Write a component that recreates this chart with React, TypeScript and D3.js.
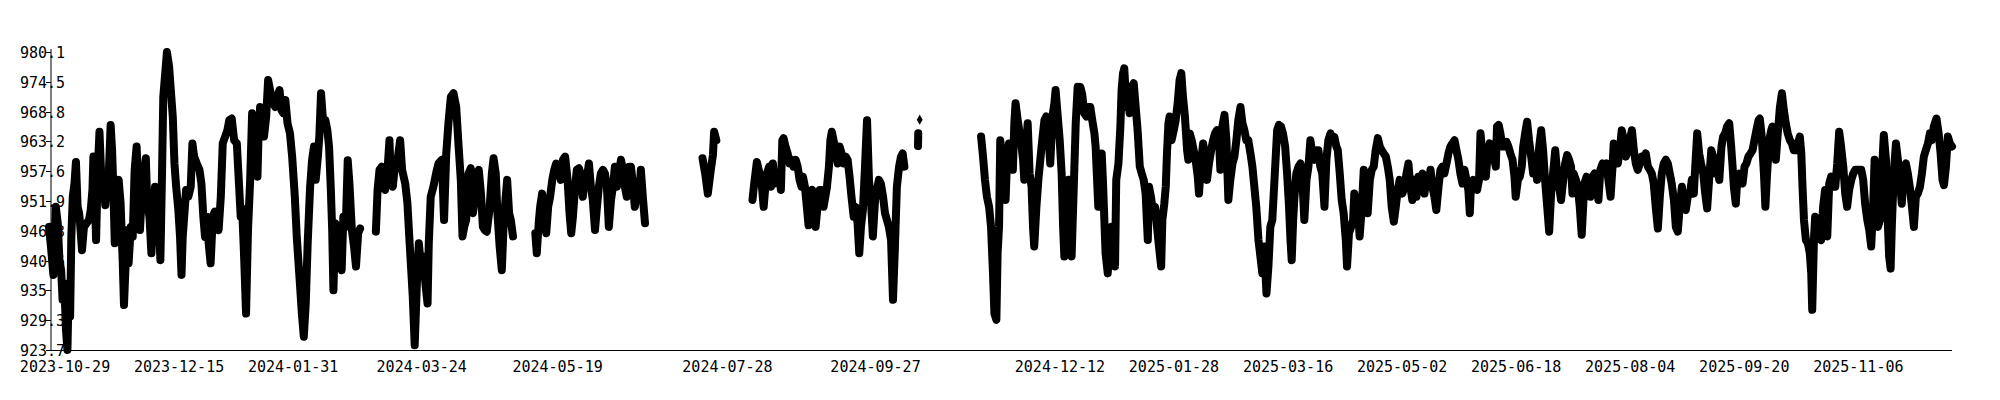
import React, { useEffect, useRef } from 'react';
import * as d3 from 'd3';

// pressure readings (hPa), [days since 2023-10-29, value], split at gaps in the record
const seg1: [number, number][] = [
  [-6.6, 947.0], [-5.8, 943.3], [-4.8, 937.9], [-3.8, 950.8], [-3.0, 947.7], [-2.3, 940.7], [-1.6, 938.8], [-1.0, 933.2],
  [-0.3, 936.3], [0.4, 927.5], [1.0, 923.7], [1.5, 935.0], [2.1, 930.0], [2.6, 945.1], [3.2, 952.7], [3.9, 955.2],
  [4.5, 959.3], [5.2, 950.8], [5.8, 949.6], [6.2, 947.7], [7.0, 942.6], [7.8, 947.0], [8.9, 947.7], [9.9, 948.3],
  [10.6, 950.2], [11.3, 954.0], [11.7, 960.3], [12.4, 951.5], [12.8, 944.5], [13.5, 957.8], [14.2, 965.0], [15.1, 954.6],
  [15.8, 956.5], [16.6, 951.1], [17.5, 956.5], [18.1, 957.8], [18.8, 966.3], [19.4, 961.5], [19.9, 954.6], [20.5, 943.9],
  [21.3, 951.5], [22.1, 955.9], [22.9, 951.5], [23.8, 940.1], [24.3, 932.2], [25.2, 942.6], [25.7, 946.4], [26.2, 940.1],
  [27.1, 947.0], [27.9, 945.1], [28.7, 957.8], [29.5, 962.2], [30.2, 954.6], [30.9, 946.4], [31.7, 954.0], [32.6, 957.1],
  [33.3, 960.0], [33.9, 951.5], [34.8, 948.9], [35.6, 942.0], [36.4, 950.2], [37.1, 954.6], [37.8, 951.5], [38.6, 948.9],
  [39.3, 940.7], [40.0, 957.8], [40.5, 971.6], [41.4, 976.7], [42.0, 980.1], [42.9, 977.3], [43.6, 972.9], [44.4, 967.9],
  [45.1, 959.0], [45.8, 954.6], [46.7, 950.2], [47.4, 945.1], [48.0, 937.9], [48.5, 945.1], [49.1, 948.9], [49.9, 954.0],
  [50.8, 952.7], [51.8, 954.6], [52.5, 962.8], [53.2, 960.3], [54.3, 959.0], [55.4, 957.8], [56.2, 955.2], [57.0, 948.9],
  [57.7, 945.1], [58.4, 948.9], [59.2, 943.9], [60.0, 940.1], [60.9, 948.9], [61.7, 949.9], [62.5, 947.7], [63.3, 946.4],
  [64.2, 952.7], [65.0, 962.8], [66.0, 964.1], [66.9, 965.3], [67.7, 967.2], [68.7, 967.5], [69.7, 963.4], [70.8, 962.8],
  [71.6, 955.9], [72.4, 948.9], [73.0, 950.5], [73.8, 941.4], [74.6, 930.6], [75.4, 946.4], [76.3, 955.9], [77.1, 968.5],
  [77.9, 966.0], [78.7, 962.2], [79.3, 956.5], [79.8, 965.3], [80.4, 969.7], [81.2, 968.5], [82.0, 964.1], [82.9, 967.9],
  [83.7, 974.8], [84.5, 972.9], [85.5, 970.7], [86.6, 969.7], [87.5, 971.6], [88.4, 972.9], [89.2, 969.1], [90.0, 968.5],
  [90.8, 971.0], [91.7, 966.6], [92.7, 964.7], [93.6, 960.3], [94.7, 952.7], [95.5, 945.1], [96.6, 937.6], [97.6, 930.6],
  [98.4, 926.2], [99.2, 932.5], [100.0, 943.9], [101.0, 954.6], [101.8, 959.6], [102.6, 962.2], [103.3, 955.9], [104.2, 960.3],
  [104.8, 964.1], [105.5, 972.3], [106.5, 966.0], [107.3, 967.2], [108.1, 965.3], [108.8, 962.2], [109.5, 954.6], [110.1, 946.4],
  [110.6, 935.0], [111.4, 947.7], [112.3, 946.4], [113.1, 940.1], [114.0, 938.8], [114.7, 948.9], [115.7, 947.0], [116.5, 959.6],
  [117.2, 955.2], [118.2, 946.4], [119.1, 943.3], [119.9, 939.5], [120.8, 945.8], [121.6, 946.7],
];

const seg2: [number, number][] = [
  [128.1, 946.1], [128.8, 954.0], [129.6, 957.8], [130.5, 958.4], [131.2, 954.6], [131.9, 954.0], [132.9, 957.8], [133.7, 963.4],
  [134.2, 956.5], [135.1, 954.6], [136.0, 959.0], [137.0, 959.6], [138.1, 963.4], [138.9, 957.8], [140.2, 955.2], [141.1, 951.5],
  [141.7, 946.4], [142.5, 940.1], [143.3, 933.8], [144.1, 924.6], [145.0, 936.3], [145.8, 943.9], [146.6, 940.1], [147.7, 941.4],
  [148.5, 936.3], [149.4, 932.5], [149.9, 943.9], [150.7, 952.7], [151.8, 954.6], [152.9, 957.1], [153.9, 959.0], [155.3, 959.7],
  [156.2, 948.3], [157.1, 960.9], [158.0, 966.6], [159.0, 971.6], [160.1, 972.3], [161.2, 969.7], [162.2, 962.2], [163.1, 955.9],
  [163.8, 945.2], [164.5, 947.0], [165.3, 948.3], [166.3, 957.1], [167.2, 958.1], [168.1, 949.6], [168.9, 952.7], [169.7, 957.1],
  [170.5, 957.8], [171.4, 953.3], [172.2, 947.0], [173.0, 946.4], [173.8, 946.1], [174.9, 950.2], [175.9, 957.1], [176.6, 960.0],
  [177.5, 957.1], [178.2, 949.6], [179.1, 943.3], [180.0, 938.8], [180.7, 947.0], [181.5, 952.1], [182.2, 955.9], [183.0, 949.6],
  [183.7, 948.3], [184.6, 945.2],
];

const seg3: [number, number][] = [
  [193.8, 945.8], [194.4, 942.0], [195.3, 948.3], [195.8, 950.8], [196.6, 953.3], [197.5, 949.6], [198.3, 945.8], [199.1, 950.8],
  [199.9, 952.7], [200.8, 955.9], [201.6, 957.8], [202.4, 959.0], [203.4, 958.4], [204.3, 955.9], [205.2, 959.7], [206.1, 960.3],
  [207.1, 955.9], [207.9, 949.6], [208.6, 945.8], [209.3, 948.9], [210.1, 954.0], [210.9, 957.8], [211.8, 958.1], [212.6, 956.5],
  [213.4, 952.7], [214.2, 957.1], [215.1, 956.5], [215.9, 959.0], [216.7, 954.6], [217.5, 952.1], [218.4, 946.4], [219.2, 950.8],
  [220.0, 954.6], [220.8, 957.1], [221.7, 957.8], [222.5, 957.1], [223.3, 954.6], [224.1, 947.0], [225.0, 952.1], [225.8, 954.6],
  [226.6, 958.4], [227.4, 954.6], [228.2, 957.1], [229.1, 959.7], [229.9, 957.8], [230.7, 954.6], [231.5, 952.7], [232.4, 958.4],
  [233.2, 958.4], [234.0, 955.2], [234.8, 950.8], [235.7, 953.3], [236.5, 952.1], [237.3, 957.8], [238.1, 952.7], [239.0, 947.7],
];

const seg4: [number, number][] = [
  [262.7, 960.0], [263.8, 957.1], [264.9, 953.3], [265.6, 955.9], [266.3, 958.4], [267.0, 960.6], [267.5, 965.0], [268.4, 963.4],
];

const seg5: [number, number][] = [
  [283.3, 952.1], [284.0, 955.2], [285.1, 959.3], [286.5, 956.5], [287.2, 954.6], [287.9, 950.8], [288.6, 954.6], [289.2, 957.1],
  [290.2, 958.4], [290.9, 954.6], [291.7, 959.0], [292.5, 955.2], [293.4, 955.9], [294.2, 957.1], [295.0, 954.0], [295.6, 963.4],
  [296.1, 963.8], [296.9, 962.2], [297.8, 960.9], [298.6, 959.0], [299.4, 959.7], [300.2, 958.4], [301.1, 959.7], [301.9, 958.4],
  [302.7, 955.9], [303.5, 954.6], [304.1, 956.5], [304.9, 954.6], [305.7, 950.8], [306.4, 947.3], [307.1, 952.7], [307.9, 954.0],
  [308.5, 950.2], [309.3, 947.0], [310.1, 950.8], [311.0, 954.0], [311.8, 954.0], [312.6, 950.8], [313.3, 952.7], [314.0, 954.6],
  [314.8, 958.4], [315.4, 963.4], [316.0, 965.0], [316.7, 963.4], [317.6, 961.5], [318.4, 959.0], [319.2, 962.2], [320.0, 960.9],
  [320.9, 959.0], [321.7, 960.3], [322.5, 959.7], [323.3, 956.5], [324.1, 952.7], [325.0, 948.9], [325.8, 950.8], [326.6, 947.7],
  [327.3, 942.0], [328.0, 947.0], [328.8, 950.2], [329.6, 957.8], [330.5, 967.2], [331.3, 955.9], [332.1, 952.1], [332.9, 945.2],
  [333.8, 952.1], [334.6, 954.0], [335.4, 955.9], [336.2, 955.2], [337.1, 952.7], [337.9, 949.6], [338.7, 948.3], [339.5, 947.0],
  [340.4, 944.5], [341.2, 933.2], [342.0, 943.3], [342.8, 954.6], [343.7, 958.4], [344.5, 960.3], [345.2, 960.9], [345.9, 958.4],
];

const seg6: [number, number][] = [[351.5, 962.3], [351.6, 964.7]];
const seg7: [number, number][] = [[352.2, 967.3]];

const seg8: [number, number][] = [
  [377.5, 964.1], [378.3, 960.3], [379.1, 955.9], [379.9, 952.7], [380.8, 950.8], [381.6, 947.0], [382.4, 938.2], [383.0, 930.6],
  [383.8, 929.4], [384.3, 942.0], [384.9, 947.0], [385.4, 963.4], [386.3, 959.7], [387.1, 955.9], [387.6, 952.1], [388.2, 959.7],
  [389.0, 962.8], [389.8, 961.5], [390.6, 957.8], [391.2, 966.6], [391.7, 970.4], [392.6, 967.2], [393.4, 964.7], [393.9, 963.4],
  [394.8, 959.7], [395.3, 955.9], [395.9, 961.5], [396.7, 966.6], [397.5, 957.1], [398.3, 954.6], [398.9, 947.0], [399.4, 943.3],
  [400.3, 950.8], [401.1, 955.9], [401.9, 959.7], [402.7, 963.4], [403.6, 967.2], [404.4, 967.9], [405.2, 964.7], [406.0, 959.0],
  [406.9, 967.9], [407.7, 970.4], [408.2, 972.9], [409.1, 967.9], [409.9, 963.4], [410.7, 957.1], [411.3, 947.0], [411.8, 941.4],
  [412.6, 949.6], [413.5, 955.9], [414.0, 947.0], [414.8, 941.4], [415.7, 954.6], [416.5, 966.6], [417.3, 973.5], [418.1, 971.6],
  [418.4, 973.5], [419.2, 972.0], [420.0, 968.5], [420.9, 967.9], [421.7, 969.7], [422.5, 969.7], [423.3, 967.2], [424.2, 964.7],
  [424.7, 962.2], [425.3, 955.9], [425.8, 950.8], [426.6, 958.4], [427.2, 960.9], [427.7, 955.9], [428.3, 948.3], [428.8, 942.0],
  [429.7, 938.2], [430.5, 944.5], [431.3, 947.0], [432.1, 943.3], [432.7, 939.5], [433.2, 955.9], [434.1, 959.0], [434.9, 966.0],
  [435.4, 972.9], [436.0, 976.1], [436.5, 977.0], [437.4, 969.7], [437.9, 972.9], [438.7, 968.5], [439.6, 973.5], [440.4, 974.2],
  [441.2, 969.7], [442.0, 965.3], [442.9, 958.4], [443.7, 957.1], [444.5, 955.9], [445.3, 953.3], [446.2, 944.5], [446.7, 954.6],
  [447.5, 952.7], [448.4, 949.6], [449.2, 950.8], [450.0, 947.0], [450.8, 943.3], [451.7, 939.5], [452.2, 948.3], [453.0, 951.4],
  [453.6, 954.6], [454.1, 960.9], [454.7, 966.6], [455.2, 967.9], [456.0, 963.4], [456.9, 965.3], [457.7, 967.2], [458.5, 970.4],
  [459.3, 974.8], [460.0, 976.1], [460.7, 971.6], [461.5, 967.9], [462.4, 961.5], [462.9, 959.7], [463.5, 964.7], [464.3, 963.4],
  [465.1, 961.5], [465.9, 959.7], [466.8, 956.5], [467.3, 953.3], [468.1, 959.0], [469.0, 962.8], [469.8, 960.3], [470.6, 955.9],
  [471.4, 959.0], [472.3, 961.5], [473.1, 963.4], [473.9, 964.7], [474.7, 965.3], [475.6, 962.8], [476.1, 957.8], [476.9, 966.0],
  [477.8, 968.2], [478.6, 963.4], [479.4, 952.1], [480.2, 955.9], [481.1, 959.0], [481.9, 960.3], [482.7, 963.4], [483.5, 967.2],
  [484.4, 969.7], [485.2, 966.6], [486.0, 965.3], [486.8, 963.4], [487.6, 963.4], [488.5, 960.9], [489.3, 958.4], [490.1, 954.6],
  [490.9, 950.8], [491.8, 944.5], [492.6, 941.4], [493.4, 938.2], [494.2, 943.3], [495.1, 934.4], [495.9, 939.5], [496.7, 947.0],
  [497.5, 948.3], [498.1, 953.3], [499.5, 965.3], [500.2, 966.3], [501.1, 966.0], [501.9, 964.7], [502.8, 962.2], [503.6, 957.1],
  [504.4, 950.8], [505.0, 944.5], [505.5, 940.7], [506.1, 948.3], [506.6, 952.4], [507.4, 957.1], [508.3, 958.4], [509.1, 959.0],
  [509.9, 955.9], [510.7, 948.3], [511.6, 955.9], [512.4, 958.4], [513.2, 963.4], [514.0, 960.9], [514.9, 959.7], [515.7, 961.5],
  [516.5, 961.5], [517.3, 958.4], [518.1, 957.1], [519.0, 950.8], [519.8, 959.7], [520.6, 963.4], [521.5, 964.7], [522.3, 963.4],
  [523.1, 964.0], [523.9, 962.2], [524.5, 961.5], [525.3, 957.1], [526.1, 952.1], [526.9, 949.6], [527.8, 944.5], [528.3, 939.5],
  [529.1, 945.8], [530.0, 947.0], [530.8, 948.3], [531.3, 953.3], [532.2, 951.4], [533.0, 948.9], [533.5, 945.2], [534.4, 950.8],
  [535.2, 957.8], [536.0, 955.9], [536.8, 949.6], [537.7, 955.9], [538.5, 957.8], [539.3, 958.4], [540.1, 961.5], [541.0, 963.8],
  [541.8, 962.2], [542.6, 961.5], [543.4, 960.9], [544.3, 960.3], [545.1, 958.4], [545.9, 955.9], [546.7, 950.8], [547.6, 948.0],
  [548.4, 950.8], [549.2, 954.0], [550.0, 955.9], [550.3, 955.2], [551.1, 953.3], [552.0, 954.6], [552.8, 957.1], [553.6, 959.0],
  [554.4, 954.6], [555.2, 952.1], [556.1, 955.9], [556.9, 952.7], [557.7, 956.5], [558.5, 955.9], [559.4, 957.1], [560.2, 953.3],
  [561.0, 955.9], [561.8, 954.6], [562.7, 957.8], [563.5, 954.6], [564.3, 952.7], [565.1, 950.2], [566.0, 954.6], [566.8, 957.8],
  [567.6, 958.4], [568.4, 957.1], [569.3, 959.0], [570.1, 960.9], [570.9, 962.2], [571.7, 962.8], [572.6, 963.4], [573.4, 961.5],
  [574.2, 959.7], [575.0, 957.1], [575.9, 955.2], [576.7, 957.8], [577.5, 955.9], [578.3, 954.0], [578.9, 949.6], [579.4, 955.2],
  [580.3, 955.9], [581.1, 955.2], [581.9, 954.0], [582.7, 955.9], [583.3, 964.7], [584.1, 960.9], [584.9, 957.8], [585.5, 956.5],
  [586.3, 960.9], [587.1, 962.8], [587.9, 960.9], [588.8, 960.3], [589.6, 958.4], [590.1, 966.0], [590.8, 966.3], [591.5, 964.7],
  [592.3, 962.2], [593.2, 962.2], [594.0, 963.1], [594.8, 962.2], [595.6, 960.9], [596.5, 959.7], [597.3, 956.5], [597.8, 952.7],
  [598.7, 955.9], [599.5, 956.5], [600.3, 958.4], [600.9, 962.2], [601.7, 964.7], [602.5, 966.9], [603.3, 963.4], [604.2, 960.3],
  [605.0, 957.1], [605.8, 959.0], [606.6, 955.9], [607.5, 962.2], [608.3, 965.3], [609.1, 961.5], [609.9, 955.9], [610.8, 950.8],
  [611.6, 946.1], [612.4, 953.3], [613.2, 957.1], [614.1, 961.5], [614.9, 957.1], [615.7, 954.6], [616.5, 952.1], [617.4, 955.9],
  [618.2, 959.0], [619.0, 960.6], [619.8, 959.7], [620.6, 958.4], [621.2, 953.3], [621.7, 957.1], [622.6, 955.9], [623.4, 954.6],
  [624.2, 950.8], [625.0, 945.5], [625.6, 950.8], [626.1, 955.2], [627.0, 956.5], [627.8, 955.2], [628.6, 952.7], [629.4, 956.5],
  [630.3, 957.1], [631.1, 956.5], [631.9, 952.1], [632.7, 957.8], [633.6, 959.0], [634.4, 958.4], [635.2, 959.0], [636.0, 955.9],
  [636.9, 952.7], [637.7, 958.4], [638.2, 962.8], [639.1, 962.2], [639.9, 959.0], [640.7, 961.5], [641.5, 965.3], [642.4, 963.4],
  [643.2, 960.3], [644.0, 961.5], [644.8, 963.4], [645.7, 965.3], [646.5, 961.5], [647.3, 959.0], [648.1, 957.8], [649.0, 959.0],
  [649.8, 960.3], [650.6, 959.7], [651.4, 960.9], [652.3, 958.4], [653.1, 957.8], [653.9, 957.1], [654.7, 955.2], [655.5, 950.8],
  [656.4, 946.7], [657.2, 952.7], [658.0, 957.1], [658.8, 959.0], [659.7, 959.7], [660.5, 959.0], [661.3, 957.1], [662.1, 955.2],
  [663.0, 952.1], [663.8, 947.0], [664.6, 946.1], [665.4, 950.8], [666.3, 954.6], [667.1, 950.8], [667.9, 950.2], [668.7, 952.7],
  [669.6, 953.3], [670.4, 955.9], [671.2, 953.3], [671.8, 958.4], [672.6, 964.7], [673.4, 960.9], [674.2, 959.0], [675.1, 957.1],
  [675.9, 953.3], [676.7, 950.5], [677.5, 955.9], [678.4, 961.5], [679.2, 960.3], [680.0, 957.1], [680.8, 958.4], [681.7, 955.9],
  [682.6, 962.2], [683.3, 964.1], [684.1, 964.7], [684.9, 966.0], [685.8, 966.6], [686.6, 962.2], [687.1, 959.0], [687.7, 954.6],
  [688.5, 951.4], [689.1, 955.9], [689.9, 957.1], [690.7, 955.9], [691.3, 955.2], [692.1, 958.4], [692.9, 959.0], [693.7, 960.3],
  [694.6, 960.9], [695.4, 961.5], [696.2, 963.4], [697.0, 965.3], [697.9, 967.2], [698.4, 967.5], [699.2, 964.1], [700.1, 957.1],
  [700.7, 950.8], [701.4, 957.1], [702.3, 963.4], [703.1, 965.3], [703.6, 966.0], [704.5, 961.5], [705.0, 959.7], [705.8, 964.7],
  [706.7, 969.7], [707.5, 972.3], [708.3, 969.1], [709.1, 966.6], [709.9, 964.7], [710.8, 963.4], [711.6, 962.8], [712.4, 961.5],
  [713.3, 961.5], [714.1, 962.8], [714.9, 964.1], [715.5, 960.9], [716.0, 954.6], [716.6, 948.3], [717.4, 944.5], [718.2, 943.9],
  [719.0, 942.0], [719.6, 938.2], [720.0, 931.3], [720.7, 944.5], [721.2, 948.9], [722.0, 947.0], [722.9, 945.2], [723.7, 944.5],
  [724.5, 950.8], [725.3, 954.0], [726.2, 945.2], [727.0, 955.2], [727.8, 956.5], [728.6, 954.6], [729.5, 954.6], [730.3, 959.0],
  [731.1, 965.0], [731.9, 962.2], [732.8, 958.4], [733.6, 953.3], [734.4, 950.8], [735.2, 954.0], [736.1, 955.9], [736.9, 957.1],
  [737.7, 957.8], [738.5, 957.8], [739.4, 957.8], [740.2, 957.8], [741.0, 955.9], [741.8, 951.4], [742.7, 948.3], [743.5, 946.4],
  [744.3, 943.3], [745.1, 950.8], [745.7, 959.7], [746.2, 955.9], [747.1, 947.0], [747.9, 948.3], [748.7, 957.1], [749.5, 964.4],
  [750.4, 959.7], [750.9, 950.8], [751.7, 941.4], [752.3, 939.1], [752.8, 947.0], [753.6, 957.1], [754.5, 962.8], [755.3, 959.7],
  [756.1, 955.9], [756.9, 951.4], [757.8, 958.4], [758.6, 959.0], [759.4, 957.1], [760.2, 954.6], [761.1, 950.8], [761.9, 947.0],
  [762.7, 952.7], [763.5, 953.3], [764.4, 954.6], [765.2, 957.1], [766.0, 960.3], [766.8, 961.5], [767.7, 962.8], [768.5, 964.7],
  [769.3, 963.4], [770.1, 966.0], [771.2, 967.5], [772.1, 964.7], [772.9, 960.9], [773.7, 955.9], [774.3, 954.9], [775.1, 958.4],
  [775.9, 964.1], [776.7, 962.8], [777.6, 962.2],
];

const segments = [seg1, seg2, seg3, seg4, seg5, seg6, seg7, seg8];

const startDate = '2023-10-29';

const xTickLabels = [
  '2023-10-29', '2023-12-15', '2024-01-31', '2024-03-24', '2024-05-19', '2024-07-28', '2024-09-27',
  '2024-12-12', '2025-01-28', '2025-03-16', '2025-05-02', '2025-06-18', '2025-08-04', '2025-09-20', '2025-11-06',
];

const yTickLabels = ['923.7', '929.3', '935', '940.6', '946.3', '951.9', '957.6', '963.2', '968.8', '974.5', '980.1'];

const W = 2000;
const H = 400;
const FONT = '"DejaVu Sans Mono", monospace';

const App: React.FC = () => {
  const svgRef = useRef<SVGSVGElement>(null);

  useEffect(() => {
    if (!svgRef.current) return;
    const svg = d3.select(svgRef.current);
    svg.selectAll('*').remove();

    const parse = d3.utcParse('%Y-%m-%d');
    const t0 = parse(startDate)!.getTime();
    const toDate = (day: number) => new Date(t0 + day * 86400000);

    const all = segments.flat();
    const x = d3.scaleUtc()
      .domain(d3.extent(all, d => toDate(d[0])) as [Date, Date])
      .range([49, 1952]);
    const y = d3.scaleLinear()
      .domain(d3.extent(all, d => d[1]) as [number, number])
      .range([350, 52]);

    const line = d3.line<[number, number]>()
      .x(d => x(toDate(d[0])))
      .y(d => y(d[1]));

    // data
    const g = svg.append('g');
    segments.forEach(seg => {
      if (seg.length > 1) {
        g.append('path')
          .attr('d', line(seg))
          .attr('fill', 'none')
          .attr('stroke', '#000')
          .attr('stroke-width', 8)
          .attr('stroke-linejoin', 'round')
          .attr('stroke-linecap', 'round');
      } else {
        g.append('path')
          .attr('d', d3.symbol(d3.symbolDiamond, 30)())
          .attr('transform', `translate(${x(toDate(seg[0][0]))},${y(seg[0][1])})`)
          .attr('fill', '#000');
      }
    });

    // axes
    svg.append('line')
      .attr('x1', 51).attr('x2', 51).attr('y1', 49).attr('y2', 350.5)
      .attr('stroke', '#000').attr('stroke-width', 1);
    svg.append('line')
      .attr('x1', 51).attr('x2', 1952).attr('y1', 350.5).attr('y2', 350.5)
      .attr('stroke', '#000').attr('stroke-width', 1);

    const yt = svg.append('g');
    yTickLabels.forEach(lbl => {
      const yy = Math.round(y(+lbl)) + 0.5;
      yt.append('line')
        .attr('x1', 46).attr('x2', 51).attr('y1', yy).attr('y2', yy)
        .attr('stroke', '#000');
      yt.append('text')
        .attr('x', 20)
        .attr('y', yy)
        .attr('dy', '0.36em')
        .attr('font-family', FONT)
        .attr('font-size', 15)
        .attr('fill', '#000')
        .text(lbl);
    });

    const xt = svg.append('g');
    xTickLabels.forEach(lbl => {
      xt.append('text')
        .attr('x', x(parse(lbl)!))
        .attr('y', 372)
        .attr('text-anchor', 'middle')
        .attr('font-family', FONT)
        .attr('font-size', 15)
        .attr('fill', '#000')
        .text(lbl);
    });
  }, []);

  return (
    <div style={{ position: 'absolute', left: 0, top: 0, width: W, height: H, background: '#fff' }}>
      <svg ref={svgRef} width={W} height={H} style={{ display: 'block' }} />
    </div>
  );
};

export default App;
